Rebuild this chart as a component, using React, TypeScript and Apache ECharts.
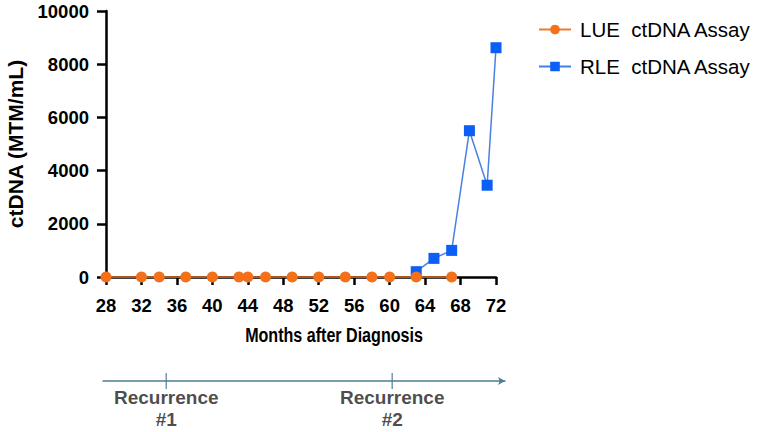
import React, { useEffect, useRef } from "react";
import * as echarts from "echarts";

// Months after diagnosis at which each assay was drawn
const lueMonths = [28, 32, 34, 37, 40, 43, 44, 46, 49, 52, 55, 58, 60, 63, 67];
const lueValues = [0, 0, 0, 0, 0, 0, 0, 0, 0, 0, 0, 0, 0, 0, 0];
const rleMonths = [63, 65, 67, 69, 71, 72];
const rleValues = [200, 700, 1000, 5500, 3450, 8620];

// Clinical events placed on the timeline below the chart
const recurrenceMonths = [34.8, 60.3];
const recurrenceLabels = ["Recurrence\n#1", "Recurrence\n#2"];

const xTicks = { min: 28, max: 72, interval: 4 };
const yTicks = { min: 0, max: 10000, interval: 2000 };

const seriesNames = ["LUE  ctDNA Assay", "RLE  ctDNA Assay"];
const xTitle = "Months after Diagnosis";
const yTitle = "ctDNA (MTM/mL)";

const FONT = "'Liberation Sans', Arial, Helvetica, sans-serif";

export default function App() {
  const ref = useRef<HTMLDivElement>(null);

  useEffect(() => {
    if (!ref.current) return;
    const chart = echarts.init(ref.current, null, { renderer: "svg" });

    const lueData = lueMonths.map((m, i) => [m, lueValues[i]]);
    const rleData = rleMonths.map((m, i) => [m, rleValues[i]]);
    const eventData = recurrenceMonths.map((m, i) => ({
      value: [m, 0],
      label: { formatter: recurrenceLabels[i] },
    }));

    const axisBlack = { color: "#000", width: 2.5 };

    chart.setOption({
      animation: false,
      backgroundColor: "#fff",
      textStyle: { fontFamily: FONT },
      grid: [
        { left: 106, right: 263, top: 11, bottom: 155, outerBoundsMode: "none" },
        { left: 103, right: 254, top: 371, height: 20, outerBoundsMode: "none" },
      ],
      legend: {
        orient: "vertical",
        left: 533,
        top: 14,
        itemWidth: 32,
        itemHeight: 12,
        itemGap: 16,
        textStyle: { fontSize: 20.5, color: "#000", fontFamily: FONT, padding: [0, 0, 0, 4] },
        data: [
          { name: seriesNames[0], lineStyle: { color: "#f07a28", width: 2 } },
          { name: seriesNames[1], lineStyle: { color: "#3d80ee", width: 2 } },
        ],
      },
      // axis title drawn narrower than the regular bold face
      graphic: [
        {
          type: "text",
          x: 334,
          y: 335,
          scaleX: 0.785,
          style: {
            text: xTitle,
            fontSize: 20.5,
            fontWeight: "bold",
            fontFamily: FONT,
            fill: "#000",
            align: "center",
            verticalAlign: "middle",
          },
        },
      ],
      xAxis: [
        {
          type: "value",
          gridIndex: 0,
          min: xTicks.min,
          max: xTicks.max,
          interval: xTicks.interval,
          axisLine: { show: true, onZero: false, lineStyle: axisBlack },
          axisTick: { show: true, length: 8, lineStyle: axisBlack },
          axisLabel: {
            fontSize: 18.5,
            fontWeight: "bold",
            color: "#000",
            margin: 19,
            formatter: (v: number) => String(v),
          },
          splitLine: { show: false },
        },
        {
          type: "value",
          gridIndex: 1,
          min: 27.66,
          max: 73.03,
          axisLine: {
            show: true,
            onZero: true,
            symbol: ["none", "arrow"],
            symbolSize: [6, 7],
            lineStyle: { color: "#4c7d97", width: 1.5 },
          },
          axisTick: { show: false },
          axisLabel: { show: false },
          splitLine: { show: false },
        },
      ],
      yAxis: [
        {
          type: "value",
          gridIndex: 0,
          min: yTicks.min,
          max: yTicks.max,
          interval: yTicks.interval,
          name: yTitle,
          nameLocation: "middle",
          nameGap: 80,
          nameTextStyle: { fontSize: 21, fontWeight: "bold", color: "#000" },
          axisLine: { show: true, lineStyle: axisBlack },
          axisTick: { show: true, length: 9, lineStyle: axisBlack },
          axisLabel: {
            fontSize: 18.5,
            fontWeight: "bold",
            color: "#000",
            margin: 17,
            formatter: (v: number) => String(v),
          },
          splitLine: { show: false },
        },
        {
          type: "value",
          gridIndex: 1,
          min: -1,
          max: 1,
          show: false,
        },
      ],
      series: [
        {
          name: seriesNames[0],
          type: "line",
          xAxisIndex: 0,
          yAxisIndex: 0,
          data: lueData,
          symbol: "circle",
          symbolSize: 11,
          clip: false,
          itemStyle: { color: "#f2711a" },
          lineStyle: { color: "#ad561f", width: 2 },
          z: 5,
        },
        {
          name: seriesNames[1],
          type: "line",
          xAxisIndex: 0,
          yAxisIndex: 0,
          data: rleData,
          symbol: "rect",
          symbolSize: 11,
          clip: false,
          itemStyle: { color: "#0b5ff5" },
          lineStyle: { color: "#4a80e2", width: 1.5 },
          z: 4,
        },
        {
          type: "scatter",
          xAxisIndex: 1,
          yAxisIndex: 1,
          data: eventData,
          symbol: "rect",
          symbolSize: [1.5, 16],
          itemStyle: { color: "#4c7d97" },
          label: {
            show: true,
            position: "bottom",
            distance: -3,
            fontSize: 19,
            fontWeight: "bold",
            lineHeight: 22,
            color: "#1c1c1c",
            align: "center",
          },
          silent: true,
        },
      ],
    });

    return () => chart.dispose();
  }, []);

  return (
    <div
      ref={ref}
      style={{ position: "absolute", left: 0, top: 0, width: 759, height: 432 }}
    />
  );
}
